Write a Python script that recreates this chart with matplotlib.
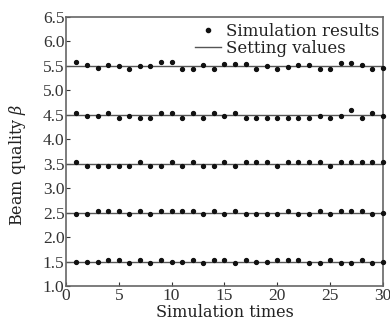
import matplotlib
matplotlib.use("Agg")
import matplotlib.pyplot as plt
from matplotlib.lines import Line2D

plt.rcParams['font.family'] = ['Liberation Serif', 'DejaVu Serif']
plt.rcParams['mathtext.fontset'] = 'dejavuserif'

times = list(range(1, 31))
setting_values = [1.5, 2.5, 3.5, 4.5, 5.5]
sim_15 = [1.49, 1.49, 1.49, 1.53, 1.53, 1.47, 1.53, 1.47, 1.53, 1.49,
          1.49, 1.53, 1.47, 1.53, 1.53, 1.47, 1.53, 1.49, 1.49, 1.53,
          1.53, 1.53, 1.47, 1.47, 1.53, 1.47, 1.47, 1.53, 1.47, 1.49]
sim_25 = [2.47, 2.47, 2.53, 2.53, 2.53, 2.47, 2.53, 2.47, 2.53, 2.53,
          2.53, 2.53, 2.47, 2.53, 2.47, 2.53, 2.47, 2.47, 2.47, 2.47,
          2.53, 2.47, 2.47, 2.53, 2.47, 2.53, 2.53, 2.53, 2.47, 2.50]
sim_35 = [3.53, 3.46, 3.46, 3.46, 3.46, 3.46, 3.53, 3.46, 3.46, 3.53,
          3.46, 3.53, 3.46, 3.46, 3.53, 3.46, 3.53, 3.53, 3.53, 3.46,
          3.53, 3.53, 3.53, 3.53, 3.46, 3.53, 3.53, 3.53, 3.53, 3.53]
sim_45 = [4.53, 4.48, 4.48, 4.53, 4.43, 4.48, 4.43, 4.43, 4.53, 4.53,
          4.43, 4.53, 4.43, 4.53, 4.48, 4.53, 4.43, 4.43, 4.43, 4.43,
          4.43, 4.43, 4.43, 4.48, 4.43, 4.48, 4.59, 4.43, 4.53, 4.48]
sim_55 = [5.58, 5.52, 5.46, 5.52, 5.50, 5.44, 5.49, 5.49, 5.58, 5.58,
          5.44, 5.44, 5.52, 5.44, 5.53, 5.53, 5.53, 5.44, 5.49, 5.44,
          5.48, 5.52, 5.52, 5.44, 5.44, 5.57, 5.57, 5.51, 5.44, 5.45]
series = [sim_15, sim_25, sim_35, sim_45, sim_55]

xticks = [0, 5, 10, 15, 20, 25, 30]
yticks = [1.0, 1.5, 2.0, 2.5, 3.0, 3.5, 4.0, 4.5, 5.0, 5.5, 6.0, 6.5]

fig = plt.figure(figsize=(3.9, 3.27), dpi=100)
ax = fig.add_axes([0.169, 0.125, 0.813, 0.823])

for sv, sim in zip(setting_values, series):
    ax.axhline(sv, color='#555555', linewidth=1.0, zorder=2)
    ax.plot(times, sim, linestyle='none', marker='o', markersize=2.8,
            color='#111111', clip_on=False, zorder=3)

ax.set_xlim(0, 30)
ax.set_ylim(1.0, 6.5)
ax.set_xticks(xticks)
ax.set_xticklabels([str(t) for t in xticks])
ax.set_yticks(yticks)
ax.set_yticklabels([f"{t:.1f}" for t in yticks])
ax.tick_params(direction='in', length=3, width=0.8, labelsize=12.5,
               colors='#333333', pad=1)
for s in ax.spines.values():
    s.set_color('#666666')
    s.set_linewidth(1.2)

lab_font = dict(family=['DejaVu Serif'], size=11.5, color='#222222')
ax.set_xlabel('Simulation times', fontdict=lab_font, labelpad=0)
ax.set_ylabel(r'Beam quality $\beta$', fontdict=lab_font)
ax.yaxis.set_label_coords(-0.12, 0.45)

handles = [Line2D([], [], linestyle='none', marker='o', markersize=3.0, color='#111111'),
           Line2D([], [], color='#555555', linewidth=1.0)]
ax.legend(handles, ['Simulation results', 'Setting values'], loc='upper right',
          frameon=False, prop=dict(family=['DejaVu Serif'], size=12),
          labelcolor='#222222', handlelength=1.6, handletextpad=0.3,
          borderaxespad=0.1, labelspacing=0.0, borderpad=0.1,
          bbox_to_anchor=(1.0, 0.99))

fig.savefig('out.png', dpi=100)
